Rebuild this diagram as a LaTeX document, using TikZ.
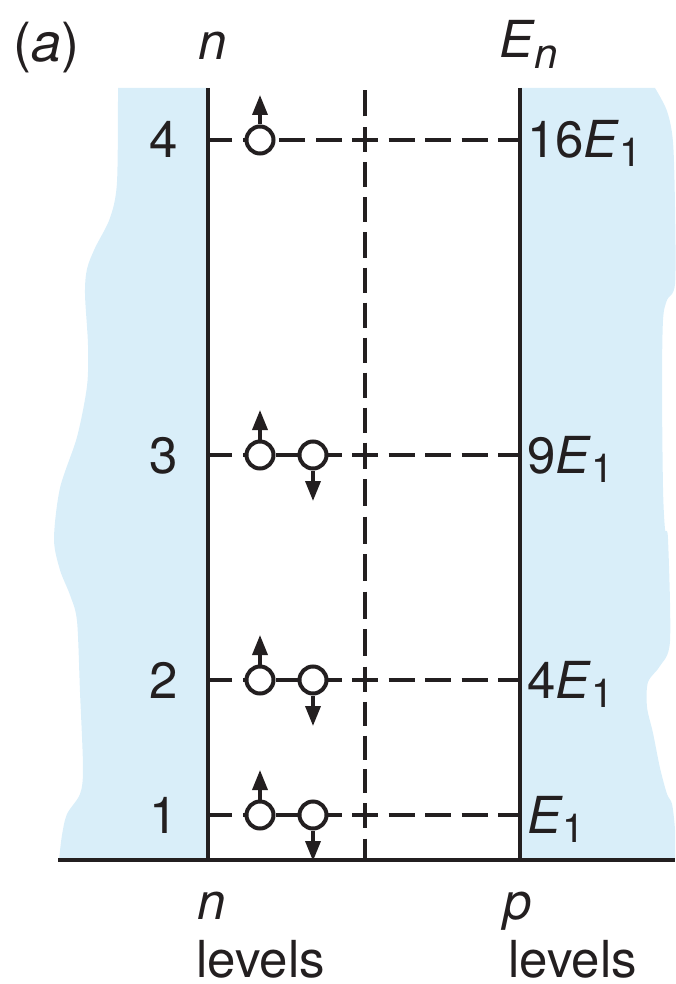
\documentclass[tikz,border=0pt]{standalone}
\usepackage{fontspec}
\setmainfont{TeX Gyre Heros}
\usetikzlibrary{arrows.meta}
\definecolor{ink}{RGB}{35,31,32}
\definecolor{sea}{RGB}{217,238,249}
\newcommand\lowidx[1]{\raisebox{-9pt}{\fontsize{40}{44}\selectfont #1}}
\newcommand\lowvar[1]{\raisebox{-11pt}{\fontsize{42}{46}\selectfont\itshape #1}}
\begin{document}
\begin{tikzpicture}[x=1pt,y=-1pt,
  wall/.style={line width=4pt, draw=ink},
  hd/.style={line width=3.5pt, draw=ink, dash pattern=on 26pt off 10.5pt, dash phase=13pt},
  link/.style={line width=3.5pt, draw=ink},
  spin/.style={circle, draw=ink, line width=4pt, fill=white, minimum size=27pt, inner sep=0pt},
  spinarrow/.style={line width=3.5pt, draw=ink, -{Triangle[length=20pt,width=15pt]}},
  lbl/.style={inner sep=0pt, text=ink, font=\fontsize{51}{58}\selectfont}]
\useasboundingbox (0,0) rectangle (675,984);
% blue regions
\fill[sea] (208,88) -- plot[smooth] coordinates {(118,88) (117,182) (110,218) (95,248) (87,269) (85,294) (88,345) (87,386) (77,437) (60,488) (54,539) (60,570) (70,595) (77,621) (80,692) (83,768) (80,794) (67,814) (62,835) (59,860)} -- (208,860) -- cycle;
\fill[sea] (520,88) -- plot[smooth] coordinates {(655,88) (667,111) (673,142) (675,208) (675,284) (667,300) (663,320) (662,386) (663,488) (665,529) (668,539) (670,641) (660,666) (648,682) (647,707) (653,733) (660,768) (667,794) (672,804) (675,830) (675,860)} -- (520,860) -- cycle;
% coordinates
\foreach \n/\y in {4/140,3/455,2/680,1/815} {
  \coordinate (L\n) at (208,\y);
  \coordinate (C\n) at (365,\y);
  \coordinate (R\n) at (520,\y);
}
\coordinate (LT) at (208,88); \coordinate (LB) at (208,860);
\coordinate (RT) at (520,88); \coordinate (RB) at (520,860);
\coordinate (Vt) at (365,88); \coordinate (Vb) at (365,860);
\coordinate (BL) at (58,860); \coordinate (BR) at (675,860);
% horizontal level lines
\foreach \n in {1,...,4} {
  \draw[hd] (C\n) -- (L\n);
  \draw[hd] (C\n) -- (R\n);
}
% vertical dashed line
\draw[hd] (C4) -- (Vt);
\draw[hd, dash pattern=on 25pt off 10pt, dash phase=12.5pt] (C4) -- (C3);
\draw[hd, dash pattern=on 27pt off 10.5pt, dash phase=13.5pt] (C3) -- (C2);
\draw[hd, dash pattern=on 24pt off 9.75pt, dash phase=12pt] (C2) -- (C1);
\draw[hd] (C1) -- (Vb);
% walls and base
\draw[wall] (LT) -- (LB);
\draw[wall] (RT) -- (RB);
\draw[wall, line width=4.5pt] (BL) -- (BR);
% spins
\node[spin] (u4) at (260,140) {};
\coordinate (ut4) at (260,95);
\draw[spinarrow] (u4.north) -- (ut4);
\foreach \n/\y in {3/455,2/680,1/815} {
  \node[spin] (u\n) at (260,\y) {};
  \node[spin] (d\n) at (313,\y) {};
  \coordinate (ut\n) at (260,{\y-45});
  \coordinate (dt\n) at (313,{\y+46});
}
\foreach \n in {1,2,3} {
  \draw[link] (u\n) -- (d\n);
  \draw[spinarrow] (u\n.north) -- (ut\n);
  \draw[spinarrow] (d\n.south) -- (dt\n);
}
% texts
\node[lbl, anchor=base west, font=\fontsize{54}{60}\selectfont] (tagA) at (13,62) {(\textit{a})};
\node[lbl, anchor=base] (topn) at (213,60) {\textit{n}};
\node[lbl, anchor=base west] (topE) at (499,58) {\textit{E}\lowvar{n}};
\node[lbl, anchor=base east] (k4) at (178,158) {4};
\node[lbl, anchor=base east] (k3) at (178,473) {3};
\node[lbl, anchor=base east] (k2) at (178,698) {2};
\node[lbl, anchor=base east] (k1) at (178,833) {1};
\node[lbl, anchor=base west] (e4) at (527,158) {16\textit{E}\lowidx{1}};
\node[lbl, anchor=base west] (e3) at (527,473) {9\textit{E}\lowidx{1}};
\node[lbl, anchor=base west] (e2) at (527,698) {4\textit{E}\lowidx{1}};
\node[lbl, anchor=base west] (e1) at (527,833) {\textit{E}\lowidx{1}};
\node[lbl, anchor=base west] (bn) at (197,919) {\textit{n}};
\node[lbl, anchor=base west] (bnl) at (196,977) {levels};
\node[lbl, anchor=base west] (bp) at (503,919) {\textit{p}};
\node[lbl, anchor=base west] (bpl) at (508,977) {levels};
\end{tikzpicture}
\end{document}
